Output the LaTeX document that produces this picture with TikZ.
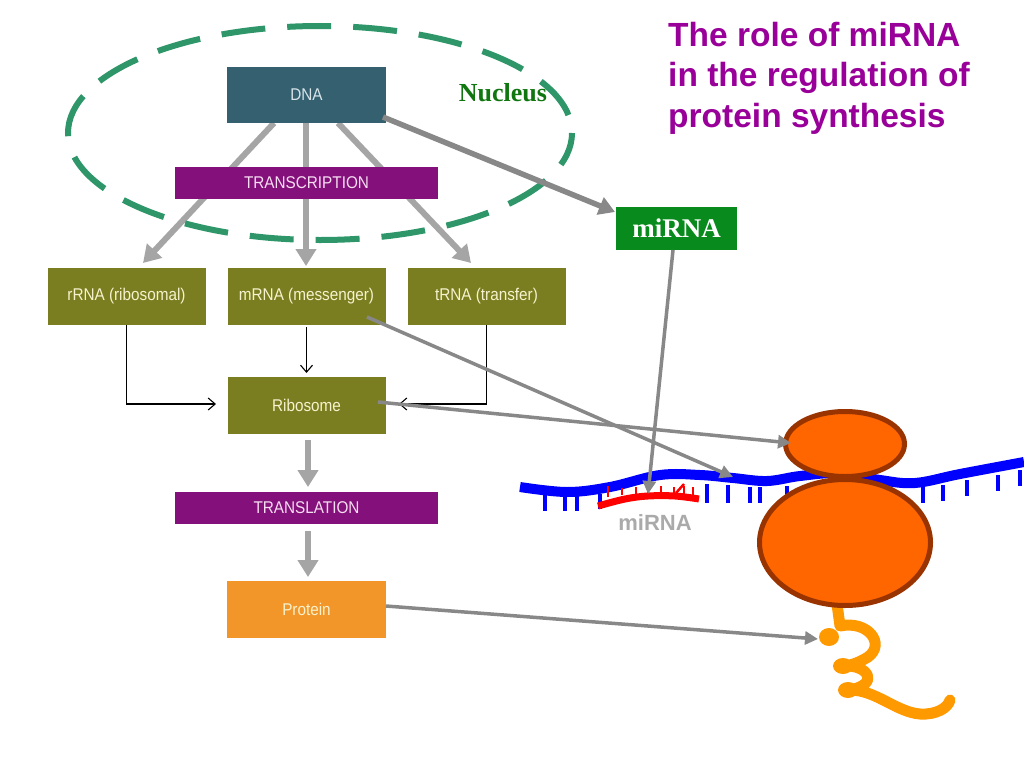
\documentclass[tikz,border=0pt]{standalone}
\usepackage{fontspec}
\setmainfont{Liberation Sans}
\newfontfamily\serifb{Liberation Serif}[BoldFont={Liberation Serif Bold}]
\newfontfamily\cond[FakeStretch=0.9]{Liberation Sans}
\usetikzlibrary{arrows.meta,shapes.geometric}
\definecolor{dnacol}{RGB}{53,96,112}
\definecolor{purp}{RGB}{132,16,124}
\definecolor{olivebox}{RGB}{122,126,32}
\definecolor{protbox}{RGB}{243,150,42}
\definecolor{oltext}{RGB}{246,242,205}
\definecolor{dnatext}{RGB}{216,228,234}
\definecolor{pinktext}{RGB}{246,221,240}
\definecolor{lgray}{RGB}{165,165,165}
\definecolor{mgray}{RGB}{136,136,136}
\definecolor{nucgreen}{RGB}{46,150,105}
\definecolor{nuctext}{RGB}{16,118,16}
\definecolor{mirbox}{RGB}{8,138,28}
\definecolor{titlecol}{RGB}{153,0,153}
\definecolor{ribofill}{RGB}{255,102,0}
\definecolor{riboedge}{RGB}{153,51,0}
\definecolor{protline}{RGB}{255,153,0}
\definecolor{labgray}{RGB}{170,170,170}
\begin{document}
\begin{tikzpicture}[x=1pt,y=-1pt,
  boxbase/.style={rectangle, inner sep=0pt, font=\cond\fontsize{17}{19}\selectfont},
  olive/.style={boxbase, fill=olivebox, text=oltext, minimum width=158pt, minimum height=57pt},
  purplebar/.style={boxbase, fill=purp, text=pinktext, minimum width=263pt, minimum height=32pt},
  bigarrow/.style={draw=lgray, line width=6pt, -{Triangle[length=17pt,width=20pt]}},
  darkarrow/.style={draw=mgray, line width=5.5pt, -{Triangle[length=16pt,width=18pt]}},
  thinarrow/.style={draw=mgray, line width=3.5pt, -{Triangle[length=13pt,width=13pt]}},
  blackarrow/.style={draw=black, line width=1.1pt, -{Straight Barb[length=7pt,width=12pt]}},
  ribo/.style={ellipse, draw=riboedge, fill=ribofill, line width=5pt, inner sep=0pt},
  bluetick/.style={draw=blue, line width=3.5pt},
  redtick/.style={draw=red, line width=2.5pt}
]
\useasboundingbox[fill=white] (0,0) rectangle (1024,768);

% ---- thick grey arrows from DNA (behind TRANSCRIPTION) ----
\coordinate (dnaL) at (274,123);
\coordinate (dnaM) at (306,123);
\coordinate (dnaR) at (338,123);
\coordinate (rrnaIn) at (143,263);
\coordinate (mrnaIn) at (306,266);
\coordinate (trnaIn) at (471,263);
\draw[bigarrow] (dnaL) -- (rrnaIn);
\draw[bigarrow] (dnaM) -- (mrnaIn);
\draw[bigarrow] (dnaR) -- (trnaIn);

% ---- boxes ----
\node[boxbase, fill=dnacol, text=dnatext, minimum width=159pt, minimum height=56pt] (dna) at (306.5,95) {DNA};
\node[purplebar] (transcr) at (306.5,183) {TRANSCRIPTION};
\node[olive] (rrna) at (126.5,296.5) {rRNA (ribosomal)};
\node[olive] (mrna) at (306.5,296.5) {mRNA (messenger)};
\node[olive] (trna) at (486.5,296.5) {tRNA (transfer)};
\node[olive] (ribos) at (306.5,405) {Ribosome};
\node[purplebar] (transl) at (306.5,508) {TRANSLATION};
\node[boxbase, fill=protbox, text=oltext, minimum width=159pt, minimum height=57pt] (prot) at (306.5,609) {Protein};

% ---- nucleus ----
\draw[nucgreen, line width=6pt, dash pattern=on 44pt off 22pt, dash phase=10pt] (320,133) ellipse [x radius=252, y radius=107];
\node[font=\serifb\bfseries\fontsize{26}{30}\selectfont, text=nuctext] (nucl) at (503,93) {Nucleus};

% ---- thin black arrows into ribosome ----
\coordinate (rrnaBend) at (126.5,404);
\coordinate (trnaBend) at (486.5,404);
\coordinate (riboL) at (216,404);
\coordinate (riboR) at (399,404);
\coordinate (riboT) at (306.5,373);
\draw[blackarrow] (rrna.south) -- (rrnaBend) -- (riboL);
\draw[blackarrow] (trna.south) -- (trnaBend) -- (riboR);
\draw[blackarrow] ([yshift=-2pt]mrna.south) -- (riboT);

% ---- grey arrows down the left column ----
\coordinate (riboOut) at (308,440);
\coordinate (translIn) at (308,487);
\coordinate (translOut) at (308,531);
\coordinate (protIn) at (308,577);
\draw[bigarrow] (riboOut) -- (translIn);
\draw[bigarrow] (translOut) -- (protIn);

% ---- title ----
\node[anchor=north west, align=left, text=titlecol, font=\bfseries\fontsize{33.5}{40.5}\selectfont, inner sep=0pt] (title) at (668,22) {The role of miRNA\\in the regulation of\\protein synthesis};

% ---- miRNA box ----
\node[rectangle, fill=mirbox, text=white, minimum width=121pt, minimum height=43pt, inner sep=0pt, font=\serifb\bfseries\fontsize{27}{30}\selectfont] (mirna) at (676.5,228.5) {miRNA};

% ---- mRNA strand ----
\draw[blue, line width=10pt] plot[smooth, tension=0.6] coordinates {(520,487) (567,492) (610,487) (660,475) (700,475) (733,478) (767,481) (800,476) (840,473) (880,480) (915,483) (960,474) (1024,462)};
\foreach \x/\ya/\yb in {545/494/511, 565/496/511, 577/496/511, 600/494/509, 707/484/503, 728/485/503, 750/487/503, 760/487/503, 787/486/502, 923/487/503, 943/485/501, 967/480/496, 998/475/491, 1020/470/486}
  \draw[bluetick] (\x,\ya) -- (\x,\yb);

% ---- miRNA strand ----
\draw[red, line width=7pt] plot[smooth, tension=0.6] coordinates {(598,506) (625,499) (648,496) (675,496) (699,499)};
\foreach \x/\ya/\yb in {608/497/486, 622/495/488, 636/494/487, 648/493/486, 661/493/486, 674/493/487, 684/494/486, 693/495/487}
  \draw[redtick] (\x,\ya) -- (\x,\yb);
\draw[redtick] (676,493) -- (684,484);
\node[text=labgray, font=\bfseries\fontsize{22}{24}\selectfont] (mirlab) at (655,523) {miRNA};

% ---- protein chain ----
\begin{scope}[protline, line width=11pt, line cap=round, line join=round]
\draw (837,604) -- (840,626) .. controls (868,620) and (886,644) .. (868,657) .. controls (860,662) and (852,665) .. (845,666)
      .. controls (868,665) and (880,684) .. (850,690)
      .. controls (876,690) and (896,712) .. (920,714) .. controls (936,715) and (948,708) .. (950,700);
\fill (829,637) ellipse [x radius=10, y radius=9];
\fill (843,666) ellipse [x radius=10, y radius=8];
\fill (848,690) ellipse [x radius=10, y radius=8];
\end{scope}

% ---- ribosome ----
\node[ribo, minimum width=119pt, minimum height=65pt] (ribsmall) at (845,444) {};
\node[ribo, minimum width=171pt, minimum height=126pt] (riblarge) at (845,542.5) {};

% ---- long grey connectors ----
\coordinate (dnaOut) at (383,117);
\coordinate (mirIn) at (615,212);
\draw[darkarrow] (dnaOut) -- (mirIn);
\coordinate (mirOut) at (673,250);
\coordinate (redIn) at (648,494);
\draw[thinarrow] (mirOut) -- (redIn);
\coordinate (mrnaOut) at (367,317);
\coordinate (strandIn) at (733,477);
\draw[thinarrow] (mrnaOut) -- (strandIn);
\coordinate (riboOut2) at (378,402);
\coordinate (smallIn) at (791,443);
\draw[thinarrow] (riboOut2) -- (smallIn);
\coordinate (protOut) at (386,606);
\coordinate (chainIn) at (818,639);
\draw[thinarrow] (protOut) -- (chainIn);
\end{tikzpicture}
\end{document}
